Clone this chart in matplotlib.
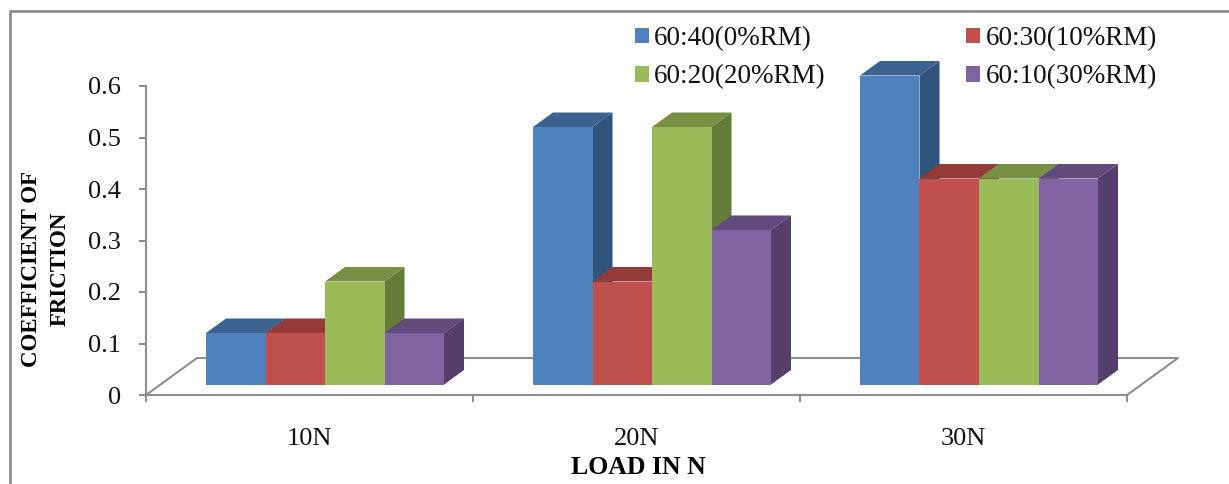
import matplotlib
matplotlib.use('Agg')
import matplotlib.pyplot as plt
from matplotlib.patches import Polygon, Patch
from matplotlib.lines import Line2D

plt.rcParams['font.family'] = ['Liberation Serif', 'DejaVu Serif']

# Data
categories = ['10N', '20N', '30N']
series_names = ['60:40(0%RM)', '60:30(10%RM)', '60:20(20%RM)', '60:10(30%RM)']
v_blue = [0.1, 0.5, 0.6]
v_red = [0.1, 0.2, 0.4]
v_green = [0.2, 0.5, 0.4]
v_purple = [0.1, 0.3, 0.4]
yticks = [0, 0.1, 0.2, 0.3, 0.4, 0.5, 0.6]
ytick_labels = ['0', '0.1', '0.2', '0.3', '0.4', '0.5', '0.6']

front = ['#4F81BD', '#C0504D', '#9BBB59', '#8064A2']
top = ['#3C6290', '#943B39', '#779043', '#614A7C']
side = ['#31547C', '#7E3331', '#657B3A', '#533F6A']
grey = '#8E8E8E'

W, H = 1229, 484
fig = plt.figure(figsize=(W / 100, H / 100), dpi=100, facecolor='white')
# plot area in pixels: x 146..1127, y 395..86
ax = fig.add_axes([146 / W, 1 - 395 / H, 981 / W, 309 / H])
ax.set_xlim(0, 3)
ax.set_ylim(0, 0.6)
ax.patch.set_visible(False)

# pixels to data units, for the fake 3D offsets
px_x = 3 / 981
px_y = 0.6 / 309

# floor
fx, fy = 51 * px_x, 37 * px_y
ax.add_line(Line2D([0, fx, 3 + fx, 3], [0, fy, fy, 0], color=grey, lw=1.5,
                   clip_on=False, zorder=1))

base = 10.5 * px_y
dx, dy = 20 * px_x, 14.5 * px_y
start = 60 * px_x
bw = 59.5 * px_x

series = [v_blue, v_red, v_green, v_purple]
z = 3
for c in range(len(categories)):
    for s, vals in enumerate(series):
        x0 = c + start + s * bw
        x1 = x0 + bw
        y0 = base
        y1 = base + vals[c]
        ax.add_patch(Polygon([(x1, y0), (x1 + dx, y0 + dy), (x1 + dx, y1 + dy), (x1, y1)],
                             fc=side[s], ec='none', clip_on=False, zorder=z))
        ax.add_patch(Polygon([(x0, y1), (x0 + dx, y1 + dy), (x1 + dx, y1 + dy), (x1, y1)],
                             fc=top[s], ec='none', clip_on=False, zorder=z))
        ax.add_patch(Polygon([(x0, y0), (x1, y0), (x1, y1), (x0, y1)],
                             fc=front[s], ec='none', clip_on=False, zorder=z))
        z += 1

for sp in ['top', 'right']:
    ax.spines[sp].set_visible(False)
for sp in ['left', 'bottom']:
    ax.spines[sp].set_color(grey)
    ax.spines[sp].set_linewidth(1.5)

ax.set_yticks(yticks)
ax.set_yticklabels(ytick_labels, fontsize=19, color='#111111')
ax.tick_params(axis='y', length=5, width=1.5, color=grey, pad=13)
ax.set_xticks([0, 1, 2, 3])
ax.set_xticklabels([])
ax.tick_params(axis='x', length=5, width=1.5, color=grey)
ax.set_xticks([0.5, 1.5, 2.5], minor=True)
ax.set_xticklabels(categories, minor=True, fontsize=19, color='#111111')
ax.tick_params(axis='x', which='minor', length=0, pad=24)

fig.text(46 / W, 1 - 269 / H, 'COEFFICIENT OF\nFRICTION', rotation=90, ha='center', va='center',
         fontsize=16.5, fontweight='bold', linespacing=1.5, multialignment='center')
fig.text(638 / W, 1 - 468 / H, 'LOAD IN N', ha='center', va='center', fontsize=18.5, fontweight='bold')

# legend, column-first order
order = [0, 2, 1, 3]
handles = [Patch(fc=front[i], ec='none', label=series_names[i]) for i in order]
fig.legend(handles=handles, ncol=2, frameon=False, fontsize=19.5,
           loc='upper left', bbox_to_anchor=(635 / W, 1 - 26 / H), borderaxespad=0, borderpad=0,
           handlelength=0.5, handleheight=0.5, handletextpad=0.2,
           columnspacing=5.2, labelspacing=0.5, labelcolor='#111111')

# outer frame of the picture
fig.add_artist(Line2D([10 / W, 10 / W, 1], [0, 1 - 11 / H, 1 - 11 / H], color=grey, lw=2))

fig.savefig('out.png', dpi=100, facecolor='white')
